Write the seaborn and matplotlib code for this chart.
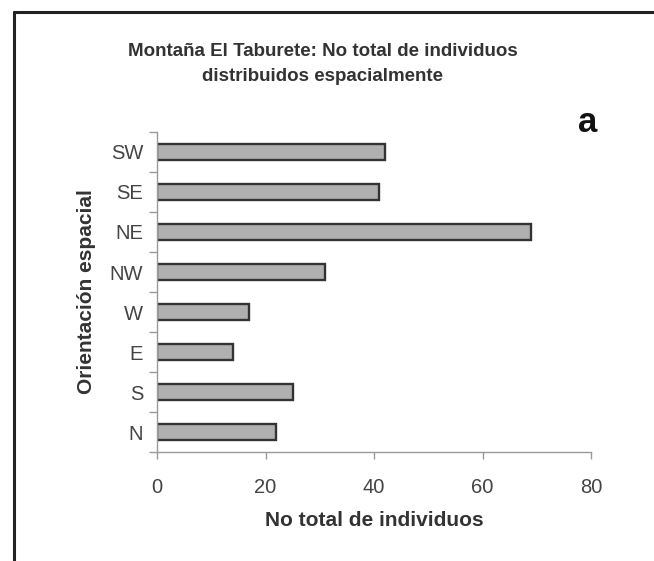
import matplotlib
matplotlib.use("Agg")
import matplotlib.pyplot as plt
import seaborn as sns
import pandas as pd
from matplotlib.ticker import FixedLocator
from matplotlib.lines import Line2D

categories = ["SW", "SE", "NE", "NW", "W", "E", "S", "N"]
values = [42, 41, 69, 31, 17, 14, 25, 22]
x_ticks = [0, 20, 40, 60, 80]

title = "Montaña El Taburete: No total de individuos\ndistribuidos espacialmente"
xlabel = "No total de individuos"
ylabel = "Orientación espacial"

sns.set_style("white")
plt.rcParams['font.family'] = ['Liberation Sans', 'DejaVu Sans']

df = pd.DataFrame({"orient": categories, "n": values})

W, H = 654, 561
fig = plt.figure(figsize=(W / 100, H / 100), dpi=100)
ax = fig.add_axes([157 / W, 1 - 452 / H, 434 / W, 320 / H])

sns.barplot(data=df, x="n", y="orient", order=categories, orient="h",
            color="#b0b0b0", edgecolor="#333333", linewidth=1.7,
            width=0.42, saturation=1, ax=ax)

ax.set_xlim(0, 80)
ax.set_ylim(len(categories) - 0.5, -0.5)
ax.set_xticks(x_ticks)
ax.set_xticklabels([str(t) for t in x_ticks])
ax.yaxis.set_minor_locator(FixedLocator([i - 0.5 for i in range(len(categories) + 1)]))

for s in ["top", "right"]:
    ax.spines[s].set_visible(False)
for s in ["left", "bottom"]:
    ax.spines[s].set_color("#9a9a9a")
    ax.spines[s].set_linewidth(1.0)

ax.tick_params(axis="y", which="major", left=False, length=0, pad=10,
               labelsize=14.5, labelcolor="#444444")
ax.tick_params(axis="y", which="minor", left=True, length=6, width=1, color="#9a9a9a")
ax.tick_params(axis="x", which="major", bottom=True, length=5, width=1, color="#9a9a9a",
               direction="out", pad=14, labelsize=14.5, labelcolor="#444444")

ax.set_xlabel(xlabel, fontsize=15, fontweight="bold", color="#333333", labelpad=10)
ax.set_ylabel(ylabel, fontsize=15, fontweight="bold", color="#333333", labelpad=10)

fig.text(323 / W, 1 - 64 / H, title, ha="center", va="center", fontsize=13.5,
         fontweight="bold", color="#333333", linespacing=1.6)
fig.text(588 / W, 1 - 123 / H, "a", ha="center", va="center", fontsize=25,
         fontweight="bold", color="#111111")

fig.add_artist(Line2D([14 / W, 1.0], [1 - 12 / H, 1 - 12 / H], transform=fig.transFigure,
                      color="#222222", linewidth=2.2))
fig.add_artist(Line2D([14 / W, 14 / W], [1 - 12 / H, 0.0], transform=fig.transFigure,
                      color="#222222", linewidth=2.2))

fig.savefig("out.png", dpi=100)
